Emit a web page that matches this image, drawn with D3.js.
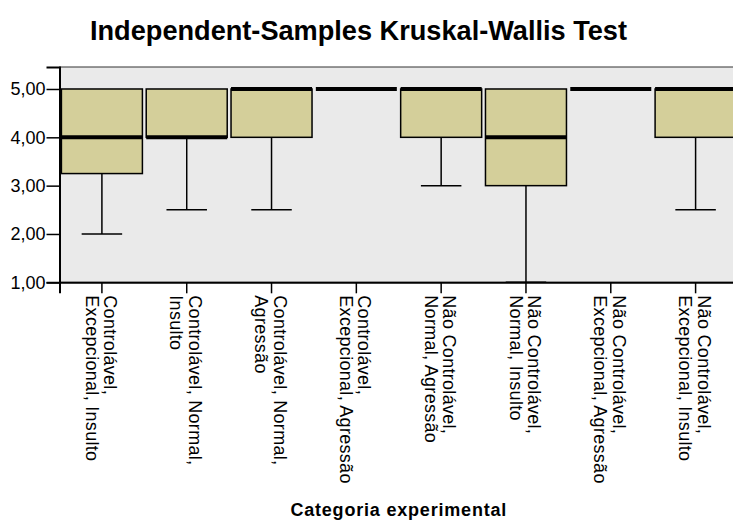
<!DOCTYPE html>
<html>
<head>
<meta charset="utf-8">
<script src="https://cdn.jsdelivr.net/npm/d3@7"></script>
<style>
  body { margin: 0; background: #fff; }
  svg { display: block; font-family: "Liberation Sans", Arial, sans-serif; }
</style>
</head>
<body>
<svg width="733" height="521"></svg>
<script>
// categories and box statistics
const categories = [
  ["Controlável,", "Excepcional, Insulto"],
  ["Controlável, Normal,", "Insulto"],
  ["Controlável, Normal,", "Agressão"],
  ["Controlável,", "Excepcional, Agressão"],
  ["Não Controlável,", "Normal, Agressão"],
  ["Não Controlável,", "Normal, Insulto"],
  ["Não Controlável,", "Excepcional, Agressão"],
  ["Não Controlável,", "Excepcional, Insulto"]
]
const mins    = [2.0, 2.5, 2.5, 5.0, 3.0, 1.0, 5.0, 2.5]
const q1s     = [3.25, 4.0, 4.0, 5.0, 4.0, 3.0, 5.0, 4.0]
const medians = [4.0, 4.0, 5.0, 5.0, 5.0, 4.0, 5.0, 5.0]
const q3s     = [5.0, 5.0, 5.0, 5.0, 5.0, 5.0, 5.0, 5.0]
const maxs    = [5.0, 5.0, 5.0, 5.0, 5.0, 5.0, 5.0, 5.0]
const yTicks  = [1, 2, 3, 4, 5]

try {
  const rows = categories.map((c, i) => ({
    id: i, lines: c, min: mins[i], q1: q1s[i], med: medians[i], q3: q3s[i], max: maxs[i]
  }))

  const svg = d3.select('svg')
  const left = 59.5, right = 738, top = 67, bottom = 282.3

  const x = d3.scaleBand()
    .domain(rows.map(d => d.id))
    .range([left, right])
    .paddingInner(0.045)
    .paddingOuter(0.0225)

  const y = d3.scaleLinear()
    .domain([1, 5.455])
    .range([bottom, top])

  // title
  svg.append('text')
    .attr('x', 358.5).attr('y', 40)
    .attr('text-anchor', 'middle')
    .attr('font-size', 28).attr('font-weight', 'bold')
    .attr('textLength', 537).attr('lengthAdjust', 'spacingAndGlyphs')
    .text('Independent-Samples Kruskal-Wallis Test')

  // plot background
  svg.append('rect')
    .attr('x', left).attr('y', top)
    .attr('width', right + 20 - left).attr('height', bottom - top)
    .attr('fill', '#eaeaea')
    .attr('stroke', '#333').attr('stroke-width', 1)

  const cx = d => x(d.id) + x.bandwidth() / 2
  const capW = x.bandwidth() / 2

  const g = svg.selectAll('g.box')
    .data(rows)
    .enter().append('g').attr('class', 'box')

  // whiskers
  g.append('line')
    .attr('x1', cx).attr('x2', cx)
    .attr('y1', d => y(d.min)).attr('y2', d => y(d.q1))
    .attr('stroke', '#000').attr('stroke-width', 1.5)
  g.append('line')
    .attr('x1', cx).attr('x2', cx)
    .attr('y1', d => y(d.max)).attr('y2', d => y(d.q3))
    .attr('stroke', '#000').attr('stroke-width', 1.5)
  g.filter(d => d.min < d.q1).append('line')
    .attr('x1', d => cx(d) - capW / 2).attr('x2', d => cx(d) + capW / 2)
    .attr('y1', d => y(d.min)).attr('y2', d => y(d.min))
    .attr('stroke', '#000').attr('stroke-width', 1.5)

  // boxes
  g.filter(d => d.q3 > d.q1).append('rect')
    .attr('x', d => x(d.id)).attr('width', x.bandwidth())
    .attr('y', d => y(d.q3)).attr('height', d => y(d.q1) - y(d.q3))
    .attr('fill', '#d4cf9a')
    .attr('stroke', '#000').attr('stroke-width', 1.5)

  // medians
  g.append('line')
    .attr('x1', d => x(d.id)).attr('x2', d => x(d.id) + x.bandwidth())
    .attr('y1', d => y(d.med)).attr('y2', d => y(d.med))
    .attr('stroke', '#000').attr('stroke-width', 4)

  // y axis
  const yAxis = svg.append('g')
    .attr('transform', `translate(${left},0)`)
    .call(d3.axisLeft(y).tickValues(yTicks).tickSize(13).tickPadding(1)
      .tickFormat(d => d.toFixed(2).replace('.', ',')))
  yAxis.select('.domain').attr('stroke', '#000').attr('stroke-width', 2)
  yAxis.selectAll('.tick line').attr('stroke', '#000').attr('stroke-width', 1.5)
  yAxis.selectAll('.tick text')
    .attr('font-size', 18).attr('fill', '#000')
    .attr('font-family', '"Liberation Sans", Arial, sans-serif')

  // x axis
  const xAxis = svg.append('g')
    .attr('transform', `translate(0,${bottom})`)
    .call(d3.axisBottom(x).tickSize(11).tickFormat(''))
  xAxis.select('.domain').attr('stroke', '#000').attr('stroke-width', 2)
  xAxis.selectAll('.tick line').attr('stroke', '#000').attr('stroke-width', 1.5)

  const labels = svg.selectAll('text.cat')
    .data(rows)
    .enter().append('text').attr('class', 'cat')
    .attr('transform', d => `translate(${cx(d) + 2},${bottom + 13}) rotate(90)`)
    .attr('font-size', 18).attr('letter-spacing', 0.3)
  labels.selectAll('tspan')
    .data(d => d.lines)
    .enter().append('tspan')
    .attr('x', 0)
    .attr('y', (l, i) => i * 18.3)
    .text(l => l)

  // x axis title
  svg.append('text')
    .attr('x', (left + right) / 2).attr('y', 516)
    .attr('text-anchor', 'middle')
    .attr('font-size', 18).attr('font-weight', 'bold').attr('letter-spacing', 0.8)
    .text('Categoria experimental')
} catch (e) {
  console.error(e)
}
</script>
</body>
</html>
